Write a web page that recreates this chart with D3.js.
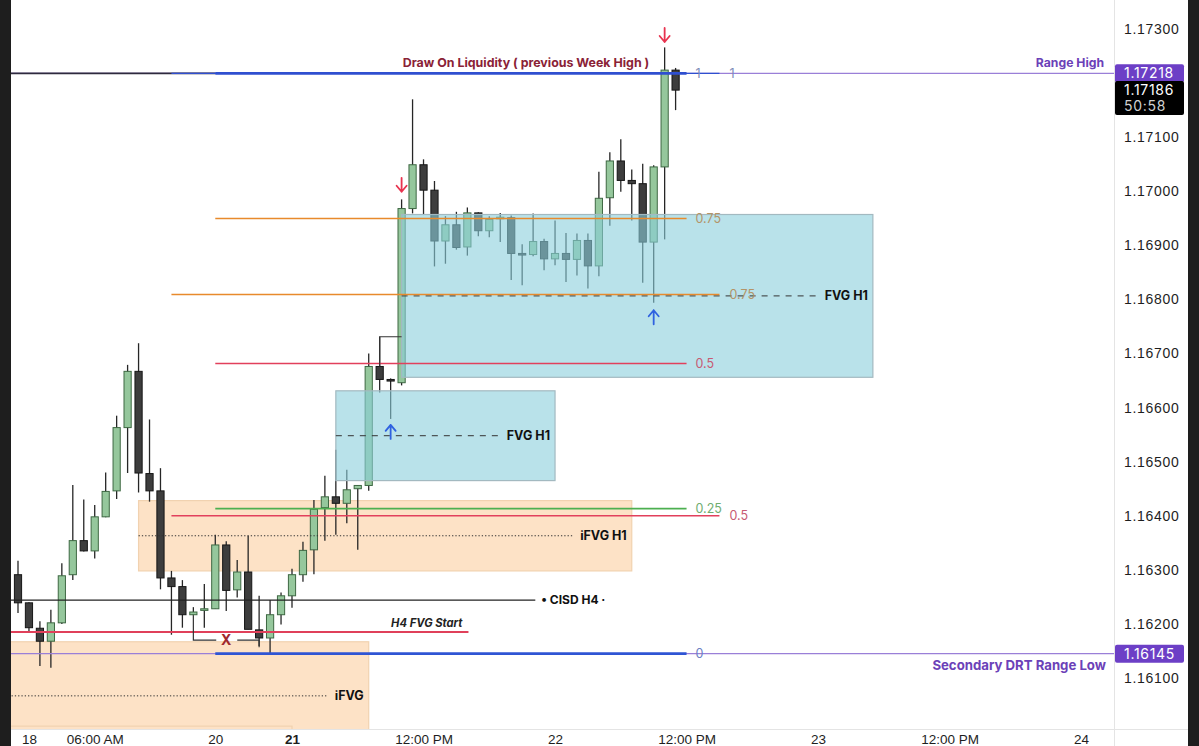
<!DOCTYPE html>
<html>
<head>
<meta charset="utf-8">
<script src="https://cdn.jsdelivr.net/npm/d3@7"></script>
<style>
html, body { margin: 0; padding: 0; background: #fff; overflow: hidden; }
svg { display: block; font-family: Inter, "Liberation Sans", Arial, sans-serif; }
</style>
</head>
<body>
<div id="chart"></div>
<script>

// hourly candles, bar 0 = last bar of the 17th
var opens  = [1.16291,1.16239,1.16192,1.16168,1.16202,1.16291,1.16354,1.16335,1.16398,1.16446,
              1.16563,1.16667,1.16478,1.16446,1.16285,1.16269,1.16217,1.16226,1.16228,1.16346,
              1.16263,1.16296,1.16189,1.16174,1.16217,1.16252,1.16291,1.16337,1.16415,1.16435,
              1.16423,1.16450,1.16456,1.16676,1.16652,1.16646,1.16968,1.17049,1.17002,1.16908,
              1.16938,1.16897,1.16960,1.16927,1.16951,1.16951,1.16885,1.16883,1.16907,1.16875,
              1.16885,1.16874,1.16909,1.16862,1.16988,1.17056,1.17020,1.17014,1.16906,1.17045,
              1.17224];
var highs  = [1.16317,1.16240,1.16205,1.16226,1.16312,1.16457,1.16430,1.16420,1.16480,1.16585,
              1.16679,1.16719,1.16578,1.16488,1.16298,1.16281,1.16231,1.16274,1.16365,1.16353,
              1.16318,1.16363,1.16252,1.16244,1.16258,1.16302,1.16352,1.16429,1.16474,1.16522,
              1.16485,1.16457,1.16700,1.16731,1.16654,1.16985,1.17170,1.17059,1.17019,1.16954,
              1.16962,1.16970,1.16961,1.16954,1.16960,1.16955,1.16902,1.16959,1.16912,1.16946,
              1.16923,1.16922,1.16922,1.17036,1.17072,1.17096,1.17040,1.17051,1.17048,1.17266,
              1.17228];
var lows   = [1.16220,1.16186,1.16122,1.16119,1.16200,1.16281,1.16334,1.16321,1.16397,1.16431,
              1.16479,1.16443,1.16426,1.16264,1.16180,1.16193,1.16215,1.16193,1.16228,1.16224,
              1.16249,1.16190,1.16159,1.16145,1.16199,1.16230,1.16278,1.16292,1.16354,1.16365,
              1.16386,1.16337,1.16446,1.16628,1.16579,1.16641,1.16959,1.16956,1.16861,1.16866,
              1.16892,1.16881,1.16917,1.16915,1.16906,1.16836,1.16826,1.16880,1.16854,1.16863,
              1.16832,1.16844,1.16820,1.16843,1.16936,1.16999,1.16946,1.16831,1.16794,1.16911,
              1.17150];
var closes = [1.16239,1.16193,1.16168,1.16202,1.16289,1.16354,1.16335,1.16398,1.16445,1.16563,
              1.16667,1.16479,1.16446,1.16285,1.16269,1.16217,1.16222,1.16228,1.16346,1.16262,
              1.16296,1.16190,1.16174,1.16217,1.16252,1.16291,1.16336,1.16412,1.16435,1.16423,
              1.16448,1.16456,1.16676,1.16652,1.16650,1.16968,1.17049,1.17002,1.16908,1.16938,
              1.16896,1.16960,1.16927,1.16948,1.16952,1.16885,1.16884,1.16907,1.16875,1.16885,
              1.16874,1.16909,1.16862,1.16987,1.17056,1.17020,1.17014,1.16906,1.17045,1.17224,
              1.17187];

var timeTicks  = [1, 7, 18, 25, 37, 49, 61, 73, 85, 97];
var timeLabels = ["18", "06:00 AM", "20", "21", "12:00 PM", "22", "12:00 PM", "23", "12:00 PM", "24"];
var priceTicks = [1.173, 1.171, 1.170, 1.169, 1.168, 1.167, 1.166, 1.165, 1.164, 1.163, 1.162, 1.161];

var rangeHigh = 1.17218, rangeLow = 1.16145;
var lastPrice = 1.17186, countdown = "50:58";

// fib tools: [fromBar, toBar, price at 0, price at 1]
var fibA = [18, 61, 1.16145, 1.17218];
var fibALevels = [0, 0.25, 0.5, 0.75, 1];
var fibB = [14, 64, 1.15582, 1.17218];
var fibBLevels = [0.5, 0.75, 1];

// zones: [fromBar, toBar, top, bottom, label]
var fvgZones  = [[35, 78, 1.16957, 1.16656, "FVG H1"], [29, 49, 1.16631, 1.16465, "FVG H1"]];
var ifvgZones = [[11, 56, 1.16428, 1.16298, "iFVG H1"], [-3, 32, 1.16167, 1.15967, "iFVG"], [-3, 25, 1.16011, 1.15900, ""]];

// plain lines: [fromBar, toBar, price]
var cisdLine  = [-3, 47.2, 1.16244];
var h4FvgLine = [-3, 41.1, 1.16185];

// arrows: [bar, tip price, direction]
var arrows = [[35, 1.16999, "down"], [59, 1.17276, "down"], [34, 1.16568, "up"], [58, 1.16780, "up"]];


const W = 1199, H = 746;
const plotL = 11, plotR = 1114, plotB = 729, axisR = 1188;

var x = d3.scaleLinear().domain([0, 97]).range([18, 18 + 97 * 10.96]);
var y = d3.scaleLinear().domain([1.161, 1.173]).range([678, 29]);

var fibColor = {0: "#2f55d4", 0.25: "#4caf50", 0.5: "#e2405c", 0.75: "#e88a2c", 1: "#2f4fd0"};
var fibText  = {0: "#6d7fc4", 0.25: "#70ad70", 0.5: "#c75a73", 0.75: "#b39468", 1: "#7d8cb8"};

var svg = d3.select("#chart").append("svg")
    .attr("width", W)
    .attr("height", H);

svg.append("rect").attr("width", W).attr("height", H).attr("fill", "#fff");

svg.append("clipPath").attr("id", "plotclip")
    .append("rect").attr("x", plotL).attr("y", 0).attr("width", plotR - plotL).attr("height", plotB);

var plot = svg.append("g").attr("clip-path", "url(#plotclip)");
var under = plot.append("g");       // orange zones sit under the candles
var candleLayer = plot.append("g");
var boxes = plot.append("g");       // blue zones are see-through over the candles
var over = plot.append("g");        // drawings and texts on top

// candles
var bars = d3.range(opens.length).map(function(i) {
    return {i: i, o: opens[i], h: highs[i], l: lows[i], c: closes[i]};
});

var candle = candleLayer.selectAll("g")
    .data(bars)
    .enter().append("g");

candle.append("line")
    .attr("x1", function(d) { return x(d.i); })
    .attr("x2", function(d) { return x(d.i); })
    .attr("y1", function(d) { return y(d.h); })
    .attr("y2", function(d) { return y(d.l); })
    .attr("stroke", "#262626")
    .attr("stroke-width", 1.3);

candle.append("rect")
    .attr("x", function(d) { return x(d.i) - 3.6; })
    .attr("width", 7.2)
    .attr("y", function(d) { return y(Math.max(d.o, d.c)); })
    .attr("height", function(d) { return Math.max(1.6, Math.abs(y(d.o) - y(d.c))); })
    .attr("fill", function(d) { return d.c >= d.o ? "#95c79c" : "#3d3d3d"; })
    .attr("stroke", function(d) { return d.c >= d.o ? "#3e6843" : "#161616"; })
    .attr("stroke-width", 1);

function zone(layer, z, fill, op, edge, dash) {
    layer.append("rect")
        .attr("x", x(z[0])).attr("width", x(z[1]) - x(z[0]))
        .attr("y", y(z[2])).attr("height", y(z[3]) - y(z[2]))
        .attr("fill", fill).attr("fill-opacity", op)
        .attr("stroke", edge).attr("stroke-width", 1.2);
    if (!z[4]) return;
    var mid = (z[2] + z[3]) / 2;
    var t = over.append("text")
        .attr("x", x(z[1]) - 5).attr("y", y(mid))
        .attr("dy", "0.35em")
        .attr("text-anchor", "end")
        .attr("font-size", 12.5).attr("font-weight", 700)
        .attr("fill", "#111")
        .text(z[4]);
    var tw = t.node().getComputedTextLength();
    over.append("line")
        .attr("x1", x(z[0])).attr("x2", x(z[1]) - 5 - tw - 7)
        .attr("y1", y(mid)).attr("y2", y(mid))
        .attr("stroke", "#333").attr("stroke-width", 1)
        .attr("stroke-dasharray", dash);
}
ifvgZones.forEach(function(z) { zone(under, z, "#fde2c6", 1, "#f1d2b0", "1.3,2"); });
fvgZones.forEach(function(z) { zone(boxes, z, "rgb(138,207,220)", 0.6, "#a3b9c0", "6,6"); });

function hline(x1, x2, p, color, w) {
    return over.append("line")
        .attr("x1", x1).attr("x2", x2).attr("y1", y(p)).attr("y2", y(p))
        .attr("stroke", color).attr("stroke-width", w);
}
// range lines across the whole chart
hline(plotL, plotR, rangeHigh, "#9a7fd8", 1.2);
hline(plotL, plotR, rangeLow, "#9a7fd8", 1.2);
hline(plotL, x(18), rangeHigh, "#2e2a3e", 1.6);

// fib tools
fibBLevels.forEach(function(l) {
    var p = fibB[2] + l * (fibB[3] - fibB[2]);
    hline(x(fibB[0]), x(fibB[1]), p, fibColor[l], l == 1 ? 1.4 : 1.6);
    over.append("text").attr("x", x(fibB[1]) + 10).attr("y", y(p)).attr("dy", "0.35em")
        .attr("font-size", 12.5).attr("fill", fibText[l]).text(l);
});
fibALevels.forEach(function(l) {
    var p = fibA[2] + l * (fibA[3] - fibA[2]);
    hline(x(fibA[0]), x(fibA[1]), p, fibColor[l], (l == 0 || l == 1) ? 2.6 : 1.6);
    over.append("text").attr("x", x(fibA[1]) + 9).attr("y", y(p)).attr("dy", "0.35em")
        .attr("font-size", 12.5).attr("fill", fibText[l]).text(l);
});

// CISD and H4 FVG start lines
hline(x(cisdLine[0]), x(cisdLine[1]), cisdLine[2], "#222", 1.2);
over.append("text").attr("x", x(cisdLine[1]) + 6).attr("y", y(cisdLine[2])).attr("dy", "0.35em")
    .attr("font-size", 12).attr("font-weight", 700).attr("fill", "#111").text("• CISD H4 ·");

hline(x(h4FvgLine[0]), x(h4FvgLine[1]), h4FvgLine[2], "#e0405a", 2);
over.append("text").attr("x", x(h4FvgLine[1]) - 6).attr("y", y(h4FvgLine[2]) - 5)
    .attr("text-anchor", "end")
    .attr("font-size", 11.2).attr("font-weight", 700).attr("font-style", "italic")
    .attr("fill", "#222").text("H4 FVG Start");

// little X bracket and the connector on the displacement candle
var bY = y(1.16170);
over.append("path")
    .attr("d", "M" + x(16) + "," + y(lows[16]) + "V" + bY + "H" + (x(19) - 10))
    .attr("fill", "none").attr("stroke", "#333").attr("stroke-width", 1.2);
over.append("path")
    .attr("d", "M" + (x(19) + 11) + "," + bY + "H" + x(22) + "V" + (bY + 7))
    .attr("fill", "none").attr("stroke", "#333").attr("stroke-width", 1.2);
over.append("text").attr("x", x(19)).attr("y", bY).attr("dy", "0.38em")
    .attr("text-anchor", "middle").attr("font-size", 14).attr("font-weight", 700)
    .attr("fill", "#a0282e").text("X");
over.append("path")
    .attr("d", "M" + x(33) + "," + y(opens[33]) + "V" + y(highs[33]) + "H" + x(35))
    .attr("fill", "none").attr("stroke", "#333").attr("stroke-width", 1.2);

// texts on the range lines
over.append("text").attr("x", 526).attr("y", y(rangeHigh) - 6)
    .attr("text-anchor", "middle").attr("font-size", 12.4).attr("font-weight", 700)
    .attr("fill", "#8a2236").text("Draw On Liquidity ( previous Week High )");
over.append("text").attr("x", plotR - 10).attr("y", y(rangeHigh) - 6)
    .attr("text-anchor", "end").attr("font-size", 12.2).attr("font-weight", 700)
    .attr("fill", "#6b41b8").text("Range High");
over.append("text").attr("x", plotR - 8).attr("y", y(rangeLow) + 16)
    .attr("text-anchor", "end").attr("font-size", 13.2).attr("font-weight", 700)
    .attr("fill", "#6b41b8").text("Secondary DRT Range Low");

// arrows
arrows.forEach(function(a) {
    var cx = x(a[0]), tip = y(a[1]), s = a[2] == "down" ? -1 : 1;
    var tail = tip + s * 14;
    over.append("path")
        .attr("d", "M" + cx + "," + tail + "V" + tip +
              "M" + (cx - 5) + "," + (tip + s * 6) + "L" + cx + "," + tip + "L" + (cx + 5) + "," + (tip + s * 6))
        .attr("fill", "none")
        .attr("stroke", a[2] == "down" ? "#e8334f" : "#2f62e0")
        .attr("stroke-width", 1.8)
        .attr("stroke-linecap", "round")
        .attr("stroke-linejoin", "round");
});

// axes
svg.append("line").attr("x1", plotR + 0.5).attr("x2", plotR + 0.5).attr("y1", 0).attr("y2", H)
    .attr("stroke", "#e4e4e4");
svg.append("line").attr("x1", plotL).attr("x2", axisR).attr("y1", plotB + 0.5).attr("y2", plotB + 0.5)
    .attr("stroke", "#e4e4e4");

var yAxis = svg.append("g")
    .attr("transform", "translate(" + plotR + ",0)")
    .call(d3.axisRight(y).tickValues(priceTicks).tickFormat(d3.format(".5f")).tickSize(0).tickPadding(10));
yAxis.select(".domain").remove();
yAxis.selectAll("text").attr("font-size", 14).attr("letter-spacing", 0.7)
    .attr("fill", "#1e1e1e").attr("font-family", null);

var xAxis = svg.append("g")
    .attr("transform", "translate(0," + plotB + ")")
    .call(d3.axisBottom(x).tickValues(timeTicks)
        .tickFormat(function(d, i) { return timeLabels[i]; })
        .tickSize(0).tickPadding(5));
xAxis.select(".domain").remove();
xAxis.selectAll("text").attr("font-size", 13.5).attr("fill", "#1e1e1e").attr("font-family", null)
    .attr("font-weight", function(d, i) { return timeLabels[i] == "21" ? 700 : 400; });

// price tags on the right scale
function tag(p, fill, lines, h) {
    var g = svg.append("g");
    var top = y(p) - 9;
    g.append("rect").attr("x", plotR + 1).attr("y", top).attr("width", 69).attr("height", h)
        .attr("rx", 2).attr("fill", fill);
    lines.forEach(function(s, k) {
        g.append("text").attr("x", plotR + 10).attr("y", top + 9 + k * 16).attr("dy", "0.36em")
            .attr("font-size", 14).attr("letter-spacing", 0.7)
            .attr("fill", k == 0 ? "#fff" : "#d0d0d0").text(s);
    });
}
tag(rangeHigh, "#6c3fc6", [d3.format(".5f")(rangeHigh)], 18);
tag(lastPrice + 0.00001, "#000", [d3.format(".5f")(lastPrice), countdown], 34);
tag(rangeLow, "#6c3fc6", [d3.format(".5f")(rangeLow)], 18);

// dark frame edges of the screenshot
svg.append("rect").attr("x", 0).attr("y", 0).attr("width", plotL).attr("height", H).attr("fill", "#1e1e1e");
svg.append("rect").attr("x", axisR).attr("y", 0).attr("width", W - axisR).attr("height", H).attr("fill", "#1e1e1e");

</script>
</body>
</html>
